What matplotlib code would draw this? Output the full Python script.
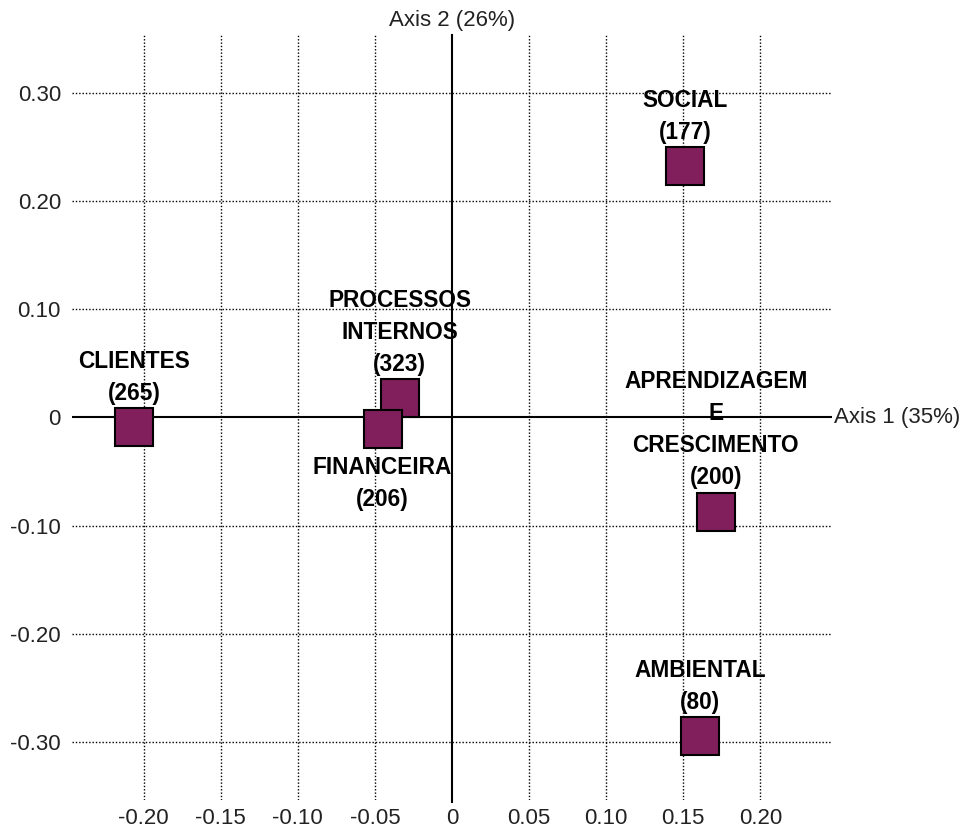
import matplotlib.pyplot as plt

# Data
names = ["SOCIAL", "CLIENTES", "PROCESSOS\nINTERNOS", "FINANCEIRA",
         "APRENDIZAGEM\nE\nCRESCIMENTO", "AMBIENTAL"]
counts = [177, 265, 323, 206, 200, 80]
axis1 = [0.151, -0.206, -0.034, -0.045, 0.171, 0.161]
axis2 = [0.233, -0.009, 0.018, -0.011, -0.087, -0.295]
label_below = [False, False, False, True, False, False]

xticks = [-0.20, -0.15, -0.10, -0.05, 0, 0.05, 0.10, 0.15, 0.20]
xticklabels = ["-0.20", "-0.15", "-0.10", "-0.05", "0", "0.05", "0.10", "0.15", "0.20"]
yticks = [-0.30, -0.20, -0.10, 0, 0.10, 0.20, 0.30]
yticklabels = ["-0.30", "-0.20", "-0.10", "0", "0.10", "0.20", "0.30"]

plt.rcParams['font.family'] = ['Liberation Sans', 'DejaVu Sans']

fig = plt.figure(figsize=(9.76, 8.33), dpi=100)
ax = fig.add_axes([0.0738, 0.0396, 0.7787, 0.9184])
ax.set_xlim(-0.2465, 0.2465)
ax.set_ylim(-0.354, 0.354)

for s in ax.spines.values():
    s.set_visible(False)

# dotted grid
dot = (0, (1, 1.4))
for x in xticks:
    if x != 0:
        ax.axvline(x, color='black', lw=1, ls=dot, zorder=1)
for y in yticks:
    if y != 0:
        ax.axhline(y, color='black', lw=1, ls=dot, zorder=1)

# principal axes
ax.axhline(0, color='black', lw=1.5, zorder=2)
ax.plot([0, 0], [-0.356, 0.354], color='black', lw=1.5, zorder=2, clip_on=False)

ax.set_xticks(xticks)
ax.set_xticklabels(xticklabels)
ax.set_yticks(yticks)
ax.set_yticklabels(yticklabels)
ax.tick_params(length=0, labelsize=16, pad=8, labelcolor='#222222')
ax.tick_params(axis='x', pad=6)

ax.text(0, 1.005, "Axis 2 (26%)", transform=ax.get_xaxis_transform(),
        ha='center', va='bottom', fontsize=16, color='#222222')
ax.text(1.002, 0, "Axis 1 (35%)", transform=ax.get_yaxis_transform(),
        ha='left', va='center', fontsize=16, color='#222222')

# markers and labels (later ones drawn on top)
for i in range(len(names)):
    ax.plot(axis1[i], axis2[i], marker='s', markersize=27,
            mfc='#801f5c', mec='black', mew=1.5, ls='none', zorder=3)
    txt = "%s\n(%d)" % (names[i], counts[i])
    if label_below[i]:
        ax.annotate(txt, (axis1[i], axis2[i]), xytext=(0, -19),
                    textcoords='offset points', ha='center', va='top',
                    fontsize=16.3, fontweight='bold', linespacing=1.5, zorder=4)
    else:
        ax.annotate(txt, (axis1[i], axis2[i]), xytext=(0, 16),
                    textcoords='offset points', ha='center', va='bottom',
                    fontsize=16.3, fontweight='bold', linespacing=1.5, zorder=4)

fig.savefig("out.png", dpi=100)
